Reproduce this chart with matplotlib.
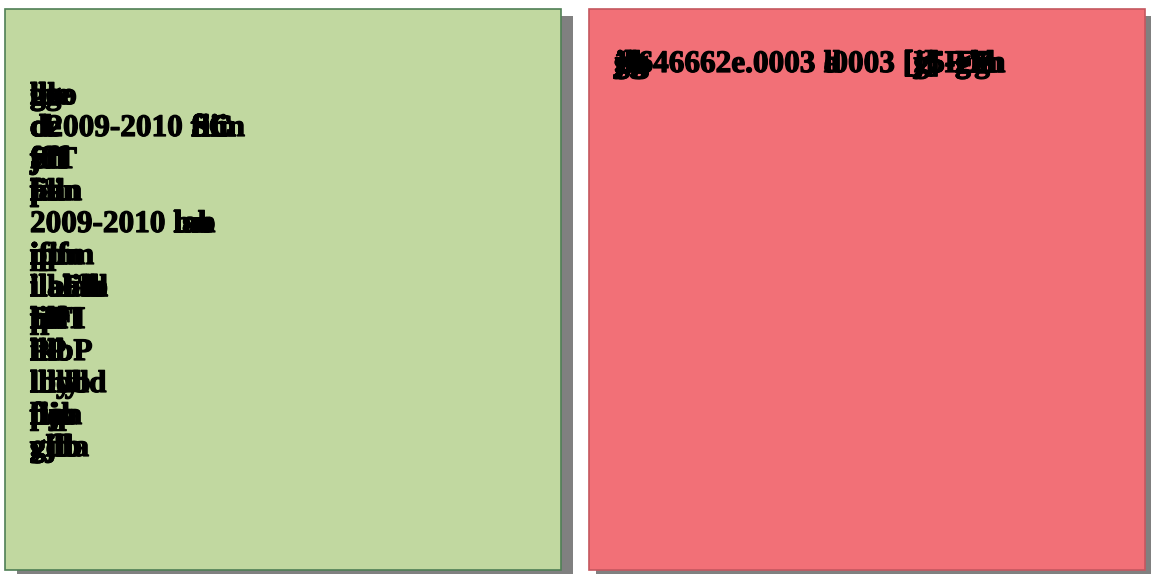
import matplotlib.pyplot as plt
import matplotlib.patheffects as pe
from matplotlib.patches import Rectangle

# text of each row, as clusters of words that were printed over each other
left_lines = [
    [["ille", "gge", "lb", "llo", "goo"]],
    [["d", "de", "cl", "ct"], ["2009-2010 "], ["fin", "flin", "SC", "fiiin", "fiC"]],
    [["S/T", "yff", "jdf", "ff", "Sff"]],
    [["Fa", "pl", "lin", "lain", "fa", "pdn"]],
    [["2009-2010 "], ["la", "lan", "lab", "bn", "lsn"]],
    [["ifif", "pp", "ipm", "m", "ip", "itlfm"]],
    [["ila", "ilb", "lla", "ilal"], ["Fill", "bh", "lah", "lith", "Flb"]],
    [["IIFI", "lil", "tpl", "pIl", "EPI"]],
    [["lilb", "lkl", "liP", "P", "ikbP"]],
    [["llllyld", "lbo", "lllyb", "llhlb"]],
    [["fiip", "lla", "pcl", "fijn", "flpa"]],
    [["gjlla", "ylb", "gill", "yjlb", "gdb"]],
]
right_lines = [
    [["1.", "jlb", "gb", "gg", "jlg"], ["646662e.0003 "], ["l", "d", "a"], ["0003 "],
     ["[y", "[j]", "[g]", "[I"], ["5-", "5-E", "5F"], ["g", "Fg", "E7", "g7"],
     ["7h", "hn", "in"]],
]

W, H = 1151, 574
fig = plt.figure(figsize=(W / 100, H / 100), dpi=100)
ax = fig.add_axes([0, 0, 1, 1])
ax.set_xlim(0, W)
ax.set_ylim(H, 0)
ax.axis("off")

font = dict(family="Liberation Serif", weight="bold", size=22.5, color="black")
thick = [pe.withStroke(linewidth=0.9, foreground="black")]


def panel(x, y, w, h, face, edge, dx):
    ax.add_patch(Rectangle((x + dx, y + 7), w, h, facecolor="#808080", edgecolor="none", zorder=1))
    ax.add_patch(Rectangle((x, y), w, h, facecolor=face, edgecolor=edge, lw=1.2, zorder=2))


panel(5, 9, 556, 561, "#c1d8a0", "#4f7f55", 12)
panel(589, 9, 556, 561, "#f27077", "#c5575f", 7)

renderer = fig.canvas.get_renderer()


def draw_lines(lines, x0, y0, step):
    for i, clusters in enumerate(lines):
        x = x0
        y = y0 + i * step
        for words in clusters:
            first = None
            for word in words:
                t = ax.text(x, y, word, va="baseline", ha="left", zorder=3,
                            path_effects=thick, **font)
                if first is None:
                    first = t
            x += first.get_window_extent(renderer).width


draw_lines(left_lines, 30, 104, 32)
draw_lines(right_lines, 614, 72, 32)

fig.savefig("out.png", dpi=100)
